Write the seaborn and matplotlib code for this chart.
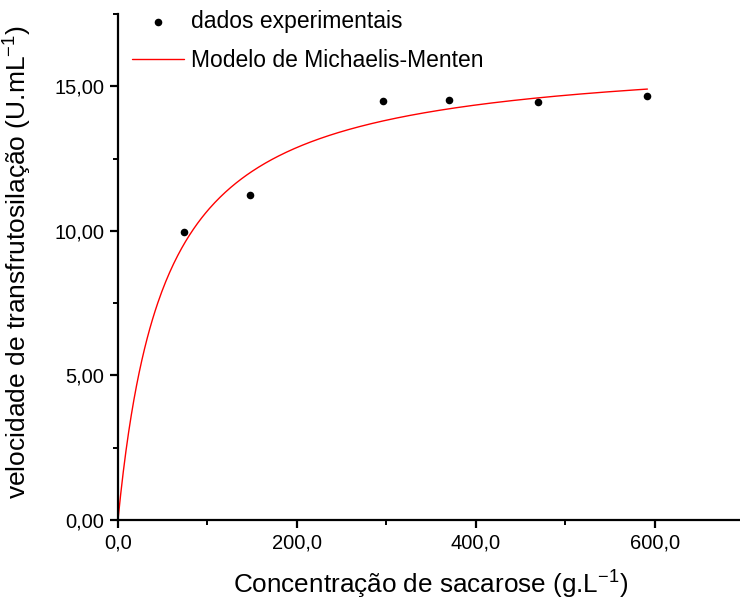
import numpy as np
import pandas as pd
import matplotlib
matplotlib.use("Agg")
import matplotlib.pyplot as plt
from matplotlib.ticker import FuncFormatter, MultipleLocator
import seaborn as sns

# Experimental data: sucrose concentration (g/L) and transfructosylation rate (U/mL)
sacarose = [74, 148, 296, 370, 470, 592]
velocidade = [9.96, 11.25, 14.48, 14.53, 14.46, 14.66]

# Fitted Michaelis-Menten parameters
Vmax = 16.2
Km = 51.5

sns.set_theme(style="white")
plt.rcParams["font.family"] = ["Liberation Sans", "DejaVu Sans"]
plt.rcParams["text.color"] = "black"
plt.rcParams["axes.labelcolor"] = "black"

df_exp = pd.DataFrame({"S": sacarose, "v": velocidade})
s_fit = np.linspace(0, max(sacarose), 400)
df_fit = pd.DataFrame({"S": s_fit, "v": Vmax * s_fit / (Km + s_fit)})

fig = plt.figure(figsize=(7.40, 6.03), dpi=100)
ax = fig.add_axes([118 / 740, 83 / 603, 626 / 740, 506 / 603])

sns.scatterplot(data=df_exp, x="S", y="v", ax=ax, color="black", s=30,
                edgecolor="black", linewidth=0, label="dados experimentais", zorder=3)
sns.lineplot(data=df_fit, x="S", y="v", ax=ax, color="#ff0000", linewidth=1.0,
             label="Modelo de Michaelis-Menten", zorder=2)

ax.set_xlim(0, 700)
ax.set_ylim(0, 17.5)
ax.xaxis.set_major_locator(MultipleLocator(200))
ax.xaxis.set_minor_locator(MultipleLocator(100))
ax.yaxis.set_major_locator(MultipleLocator(5))
ax.yaxis.set_minor_locator(MultipleLocator(2.5))
ax.xaxis.set_major_formatter(FuncFormatter(lambda v, p: f"{v:.1f}".replace(".", ",")))
ax.yaxis.set_major_formatter(FuncFormatter(lambda v, p: f"{v:.2f}".replace(".", ",")))

for side in ["top", "right"]:
    ax.spines[side].set_visible(False)
for side in ["left", "bottom"]:
    ax.spines[side].set_color("black")
    ax.spines[side].set_linewidth(1.6)

ax.tick_params(which="major", direction="out", length=6, width=1.6, colors="black",
               labelsize=14.5, pad=4)
ax.tick_params(which="minor", direction="out", length=3.5, width=1.4, colors="black")
ax.tick_params(axis="x", which="both", bottom=True)
ax.tick_params(axis="y", which="both", left=True)

ax.set_xlabel("Concentração de sacarose (g.L$^{\\mathregular{-1}}$)", fontsize=18.8, labelpad=10)
ax.set_ylabel("velocidade de transfrutosilação (U.mL$^{\\mathregular{-1}}$)", fontsize=19)
ax.yaxis.set_label_coords(-0.136, 0.51)

ax.legend(loc="upper left", bbox_to_anchor=(0.0, 1.035), frameon=False, fontsize=16.5,
          handlelength=2.3, handletextpad=0.3, labelspacing=0.68, borderaxespad=0.2,
          markerscale=1.0)

fig.savefig("out.png", dpi=100)
